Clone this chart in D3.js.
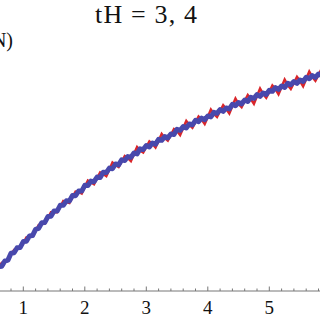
<!DOCTYPE html>
<html>
<head>
<meta charset="utf-8">
<script src="https://cdn.jsdelivr.net/npm/d3@7"></script>
<style>
  body { margin: 0; background: #fff; }
  svg { display: block; }
</style>
</head>
<body>
<div id="chart"></div>
<script>
// time grid (tH) shared by both series
const times = [
  0.60,0.65,0.70,0.75,0.80,0.85,0.90,0.95,1.00,1.05,1.10,1.15,1.20,1.25,1.30,1.35,1.40,1.45,1.50,1.55,
  1.60,1.65,1.70,1.75,1.80,1.85,1.90,1.95,2.00,2.05,2.10,2.15,2.20,2.25,2.30,2.35,2.40,2.45,2.50,2.55,
  2.60,2.65,2.70,2.75,2.80,2.85,2.90,2.95,3.00,3.05,3.10,3.15,3.20,3.25,3.30,3.35,3.40,3.45,3.50,3.55,
  3.60,3.65,3.70,3.75,3.80,3.85,3.90,3.95,4.00,4.05,4.10,4.15,4.20,4.25,4.30,4.35,4.40,4.45,4.50,4.55,
  4.60,4.65,4.70,4.75,4.80,4.85,4.90,4.95,5.00,5.05,5.10,5.15,5.20,5.25,5.30,5.35,5.40,5.45,5.50,5.55,
  5.60,5.65,5.70,5.75,5.80,5.85,5.90
];

// red series (exact)
const redVals = [
  0.230,0.282,0.290,0.302,0.360,0.412,0.420,0.431,0.480,0.535,0.540,0.548,0.600,0.660,0.670,0.675,0.730,0.788,0.790,0.788,
  0.840,0.900,0.890,0.880,0.940,0.995,0.990,0.975,1.040,1.105,1.085,1.068,1.130,1.185,1.170,1.148,1.215,1.285,1.260,1.240,
  1.295,1.350,1.330,1.300,1.370,1.440,1.405,1.385,1.440,1.495,1.470,1.435,1.500,1.570,1.530,1.505,1.560,1.620,1.600,1.560,
  1.630,1.700,1.660,1.632,1.690,1.745,1.715,1.670,1.740,1.815,1.770,1.740,1.800,1.858,1.820,1.775,1.850,1.925,1.870,1.838,
  1.900,1.960,1.920,1.872,1.950,2.025,1.970,1.932,1.990,2.055,2.020,1.968,2.040,2.115,2.060,2.020,2.080,2.142,2.100,2.048,
  2.120,2.195,2.140,2.102,2.160,2.222,2.180
];

// blue series (approx)
const blueVals = [
  0.242,0.248,0.300,0.309,0.377,0.382,0.432,0.436,0.494,0.498,0.550,0.554,0.617,0.627,0.682,0.686,0.744,0.748,0.800,0.799,
  0.857,0.857,0.902,0.901,0.954,0.953,1.000,0.999,1.057,1.054,1.099,1.093,1.140,1.134,1.187,1.184,1.229,1.223,1.270,1.261,
  1.312,1.304,1.344,1.336,1.380,1.371,1.422,1.414,1.454,1.441,1.480,1.469,1.517,1.507,1.544,1.531,1.570,1.566,1.617,1.607,
  1.644,1.631,1.670,1.661,1.707,1.694,1.729,1.713,1.750,1.741,1.787,1.777,1.814,1.796,1.830,1.821,1.867,1.852,1.884,1.871,
  1.910,1.896,1.937,1.927,1.964,1.946,1.980,1.966,2.007,1.997,2.034,2.016,2.050,2.036,2.077,2.062,2.094,2.076,2.110,2.096,
  2.137,2.122,2.154,2.136,2.170,2.156,2.197
];

const majorTicks = [1, 2, 3, 4, 5];
const titleText = "tH = 3, 4";
const yLabelText = "(N)";

const W = 320, H = 320;
const fontFam = '"Liberation Serif", Tinos, Times';

const svg = d3.select('#chart').append('svg')
  .attr('width', W)
  .attr('height', H);

const x = d3.scaleLinear().domain([0, 6]).range([-38.2, 330.8]);
const y = d3.scaleLinear().domain([0, 2.5]).range([291, 41]);

// x axis, mathematica style: ticks pointing up
const axisY = y(0);
svg.append('line')
  .attr('x1', 0).attr('x2', W)
  .attr('y1', axisY).attr('y2', axisY)
  .attr('stroke', '#777').attr('stroke-width', 1);

const minor = d3.range(0, 6.01, 0.2).filter(v => !majorTicks.some(m => Math.abs(m - v) < 1e-6));
svg.append('g').selectAll('line.minor')
  .data(minor).enter().append('line')
  .attr('class', 'minor')
  .attr('x1', d => x(d)).attr('x2', d => x(d))
  .attr('y1', axisY).attr('y2', axisY - 2.5)
  .attr('stroke', '#777').attr('stroke-width', 1);

svg.append('g').selectAll('line.major')
  .data(majorTicks).enter().append('line')
  .attr('class', 'major')
  .attr('x1', d => x(d)).attr('x2', d => x(d))
  .attr('y1', axisY).attr('y2', axisY - 4.5)
  .attr('stroke', '#777').attr('stroke-width', 1);

svg.append('g').selectAll('text.tick')
  .data(majorTicks).enter().append('text')
  .attr('class', 'tick')
  .attr('x', d => x(d))
  .attr('y', 313.5)
  .attr('text-anchor', 'middle')
  .attr('font-family', fontFam)
  .attr('font-size', 19)
  .attr('fill', '#111')
  .text(d => d);

// curves
const line = d3.line()
  .x(d => x(d[0]))
  .y(d => y(d[1]));

svg.append('path')
  .datum(times.map((t, i) => [t, redVals[i]]))
  .attr('d', line)
  .attr('fill', 'none')
  .attr('stroke', '#d9262b')
  .attr('stroke-width', 2.5)
  .attr('stroke-linejoin', 'miter');

svg.append('path')
  .datum(times.map((t, i) => [t, blueVals[i]]))
  .attr('d', line)
  .attr('fill', 'none')
  .attr('stroke', '#4848ac')
  .attr('stroke-width', 5)
  .attr('stroke-linejoin', 'round');

// texts
svg.append('text')
  .attr('x', 95).attr('y', 23.3)
  .attr('font-family', fontFam)
  .attr('font-size', 26)
  .attr('textLength', 102)
  .attr('lengthAdjust', 'spacing')
  .attr('fill', '#111')
  .text(titleText);

svg.append('text')
  .attr('x', 13).attr('y', 47)
  .attr('text-anchor', 'end')
  .attr('font-family', fontFam)
  .attr('font-size', 20)
  .attr('fill', '#111')
  .text(yLabelText);
</script>
</body>
</html>
